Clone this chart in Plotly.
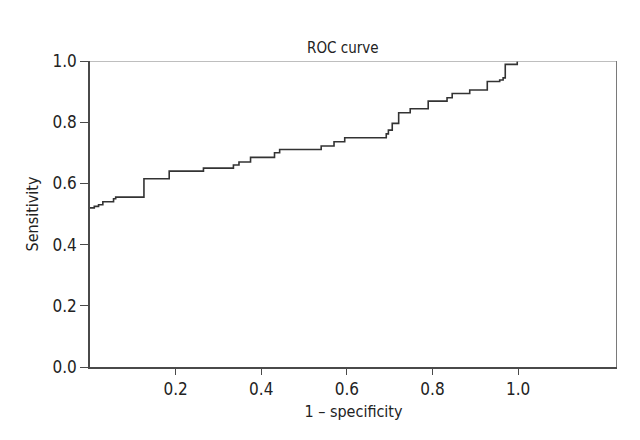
import plotly.graph_objects as go

# ROC curve step points (1 - specificity, sensitivity)
fpr = [0.0, 0.01, 0.02, 0.03, 0.055, 0.06, 0.126, 0.185, 0.265, 0.335, 0.348,
       0.375, 0.431, 0.443, 0.540, 0.570, 0.595, 0.692, 0.697, 0.706, 0.721,
       0.748, 0.790, 0.834, 0.846, 0.887, 0.928, 0.957, 0.965, 0.970, 0.998, 1.0]
tpr = [0.52, 0.525, 0.53, 0.54, 0.55, 0.555, 0.615, 0.64, 0.65, 0.66, 0.67,
       0.685, 0.70, 0.711, 0.722, 0.736, 0.749, 0.762, 0.774, 0.796, 0.831,
       0.844, 0.869, 0.880, 0.894, 0.905, 0.933, 0.938, 0.945, 0.989, 1.0, 1.0]

x_ticks = [0.2, 0.4, 0.6, 0.8, 1.0]
x_tick_text = ["0.2", "0.4", "0.6", "0.8", "1.0"]
y_ticks = [0.0, 0.2, 0.4, 0.6, 0.8, 1.0]
y_tick_text = ["0.0", "0.2", "0.4", "0.6", "0.8", "1.0"]

X_MAX = 1.231
FONT = "DejaVu Sans Condensed, Liberation Sans Narrow, Roboto, sans-serif"

fig = go.Figure()
fig.add_trace(go.Scatter(x=fpr, y=tpr, mode="lines", line_shape="hv",
                         line=dict(color="#333333", width=1.6),
                         showlegend=False, hoverinfo="skip"))

fig.update_layout(
    width=640, height=440,
    margin=dict(l=82, r=31, t=53, b=81),
    paper_bgcolor="white", plot_bgcolor="white",
    font=dict(family=FONT, size=16, color="#222"),
    xaxis=dict(range=[0, X_MAX], tickvals=x_ticks, ticktext=x_tick_text,
               showgrid=False, zeroline=False, showline=True,
               linecolor="#4a4a4a", linewidth=1.5, ticks="outside",
               ticklen=6, tickcolor="#4a4a4a", tickwidth=1.2,
               tickfont=dict(size=17), title=dict(text="1 – specificity", standoff=8,
                                                   font=dict(size=16))),
    yaxis=dict(range=[0, 1], tickvals=y_ticks, ticktext=y_tick_text,
               showgrid=False, zeroline=False, showline=True,
               linecolor="#4a4a4a", linewidth=1.5, ticks="outside",
               ticklen=8, tickcolor="#4a4a4a", tickwidth=1.2,
               tickfont=dict(size=17), title=dict(text="Sensitivity", standoff=10,
                                                   font=dict(size=16))),
    shapes=[
        dict(type="line", xref="x", yref="y", x0=0, x1=X_MAX, y0=1, y1=1,
             line=dict(color="#a8a8a8", width=1.5)),
        dict(type="line", xref="x", yref="y", x0=X_MAX, x1=X_MAX, y0=0, y1=1,
             line=dict(color="#7a7a7a", width=2)),
    ],
    annotations=[
        dict(text="ROC curve", xref="paper", yref="paper", x=0.48, y=1.0,
             xanchor="center", yanchor="bottom", yshift=2, showarrow=False,
             font=dict(size=15, color="#222")),
    ],
)

fig.write_html("out.html")
